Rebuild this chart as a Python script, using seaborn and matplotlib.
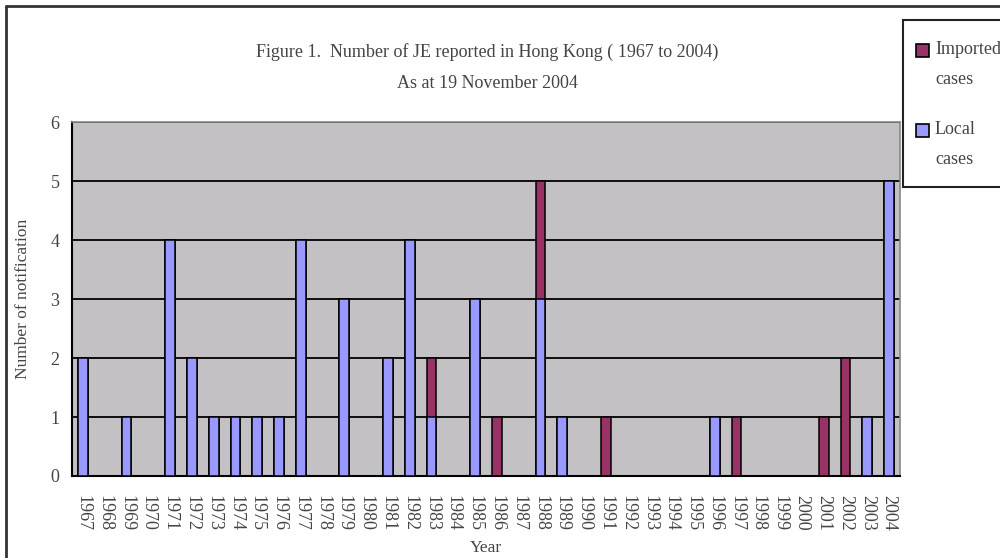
import numpy as np
import pandas as pd
import matplotlib
matplotlib.use("Agg")
import matplotlib.pyplot as plt
from matplotlib.patches import Rectangle
from matplotlib.lines import Line2D
import seaborn as sns

years = [str(y) for y in range(1967, 2005)]
local_cases = [2, 0, 1, 0, 4, 2, 1, 1, 1, 1, 4, 0, 3, 0, 2, 4, 1, 0, 3, 0, 0, 3,
               1, 0, 0, 0, 0, 0, 0, 1, 0, 0, 0, 0, 0, 0, 1, 5]
imported_cases = [0, 0, 0, 0, 0, 0, 0, 0, 0, 0, 0, 0, 0, 0, 0, 0, 1, 0, 0, 1, 0, 2,
                  0, 0, 1, 0, 0, 0, 0, 0, 1, 0, 0, 0, 1, 2, 0, 0]
series_names = ["Imported\ncases", "Local\ncases"]
colors = {"imported": "#993366", "local": "#9999FF"}
title_lines = ["Figure 1.  Number of JE reported in Hong Kong ( 1967 to 2004)",
               "As at 19 November 2004"]

df = pd.DataFrame({"year": years, "local": local_cases, "imported": imported_cases})
df["total"] = df["local"] + df["imported"]

sns.set_style("white")
plt.rcParams["font.family"] = ["Liberation Serif", "DejaVu Serif"]
txt = "#444444"

fig = plt.figure(figsize=(10, 5.58), dpi=100)
ax = fig.add_axes([0.072, 0.147, 0.828, 0.634])
ax.set_facecolor("#C3C1C4")
ax.set_axisbelow(True)

sns.barplot(data=df, x="year", y="total", color=colors["imported"], saturation=1,
            width=0.45, edgecolor="black", linewidth=1.1, ax=ax, zorder=3)
sns.barplot(data=df, x="year", y="local", color=colors["local"], saturation=1,
            width=0.45, edgecolor="black", linewidth=1.1, ax=ax, zorder=4)

ax.set_xlim(-0.5, len(years) - 0.5)
ax.set_ylim(0, 6)
ax.set_yticks(range(0, 7))
ax.yaxis.grid(True, color="black", linewidth=1.3)
ax.xaxis.grid(False)

for s in ["left", "bottom"]:
    ax.spines[s].set_color("black")
    ax.spines[s].set_linewidth(1.5)
for s in ["top", "right"]:
    ax.spines[s].set_color("#888888")
    ax.spines[s].set_linewidth(1.2)

ax.set_xticks(range(len(years)))
ax.set_xticklabels(years, rotation=270, fontsize=13, color=txt)
ax.tick_params(axis="x", which="major", length=0, pad=14)
ax.set_xticks(np.arange(len(years)) + 0.5, minor=True)
ax.tick_params(axis="x", which="minor", direction="in", length=6, width=1.2, color="black")
ax.tick_params(axis="y", direction="in", length=4, width=1.2, color="black",
               labelsize=13, labelcolor=txt, pad=9)

ax.set_xlabel("Year", fontsize=12.5, color=txt)
ax.xaxis.set_label_coords(0.5, -0.18)
ax.set_ylabel("Number of notification", fontsize=12.5, color=txt)
ax.yaxis.set_label_coords(-0.05, 0.5)

fig.text(0.487, 1 - 52 / 558, title_lines[0], ha="center", va="center", fontsize=13, color=txt)
fig.text(0.487, 1 - 83 / 558, title_lines[1], ha="center", va="center", fontsize=13, color=txt)

# outer frame (left and top)
fig.add_artist(Line2D([0.006, 0.006], [0, 1 - 6 / 558], transform=fig.transFigure,
                      color="#333333", linewidth=2))
fig.add_artist(Line2D([0.006, 1.0], [1 - 6 / 558, 1 - 6 / 558], transform=fig.transFigure,
                      color="#333333", linewidth=2))

# legend
fig.add_artist(Rectangle((0.903, 1 - 187 / 558), 0.2, 167 / 558, transform=fig.transFigure,
                         facecolor="white", edgecolor="#222222", linewidth=1.5, zorder=10))
leg_items = [(series_names[0], colors["imported"], 50), (series_names[1], colors["local"], 130)]
for label, col, ytop in leg_items:
    fig.add_artist(Rectangle((0.916, 1 - (ytop + 7) / 558), 0.013, 13 / 558,
                             transform=fig.transFigure, facecolor=col,
                             edgecolor="black", linewidth=1.2, zorder=11))
    l1, l2 = label.split("\n")
    fig.text(0.935, 1 - ytop / 558, l1, ha="left", va="center", fontsize=13, color=txt, zorder=12)
    fig.text(0.935, 1 - (ytop + 30) / 558, l2, ha="left", va="center", fontsize=13, color=txt, zorder=12)

fig.savefig("out.png", dpi=100, facecolor="white")
